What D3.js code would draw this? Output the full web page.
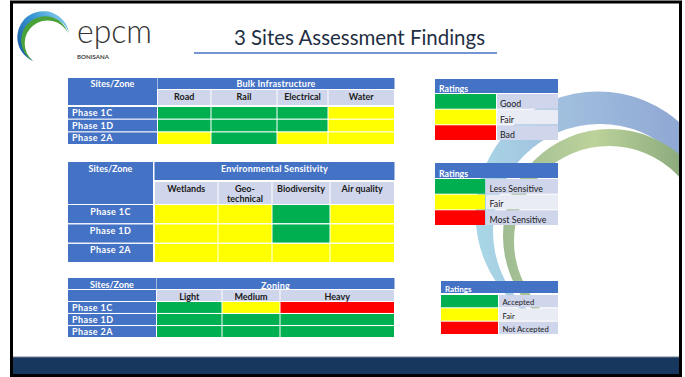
<!DOCTYPE html>
<html>
<head>
<meta charset="utf-8">
<script src="https://cdn.jsdelivr.net/npm/d3@7"></script>
<style>
  html, body { margin: 0; padding: 0; background: #ffffff; }
  svg { display: block; }
  text { font-family: Lato, "Open Sans", sans-serif; }
</style>
</head>
<body>
<div id="chart"></div>
<script>
// ---------------- DATA ----------------
const siteRows = ["Phase 1C", "Phase 1D", "Phase 2A"];

const infraTitle = "Bulk Infrastructure";
const infraCategories = ["Road", "Rail", "Electrical", "Water"];
// 1 = good/green, 2 = fair/yellow, 3 = bad/red
const infraRatings = [
  [1, 1, 1, 2],
  [1, 1, 1, 2],
  [2, 1, 2, 2]
];

const envTitle = "Environmental Sensitivity";
const envCategories = ["Wetlands", "Geo-|technical", "Biodiversity", "Air quality"];
const envRatings = [
  [2, 2, 1, 2],
  [2, 2, 1, 2],
  [2, 2, 2, 2]
];

const zoningTitle = "Zoning";
const zoningCategories = ["Light", "Medium", "Heavy"];
const zoningRatings = [
  [1, 2, 3],
  [1, 1, 1],
  [1, 1, 1]
];

const ratingLevels = [1, 2, 3];
const legendInfraLabels = ["Good", "Fair", "Bad"];
const legendEnvLabels = ["Less Sensitive", "Fair", "Most Sensitive"];
const legendZoningLabels = ["Accepted", "Fair", "Not Accepted"];

const slideTitle = "3 Sites Assessment Findings";
const headerLabel = "Sites/Zone";
const legendTitle = "Ratings";

// ---------------- STYLE ----------------
const W = 685, H = 377;
const BLUE = "#4472c4";
const SUB = "#cfd5ea";
const SUB2 = "#e9ebf5";
const ratingColor = d3.scaleOrdinal().domain(ratingLevels).range(["#00b050", "#ffff00", "#ff0000"]);

const svg = d3.select("#chart").append("svg").attr("width", W).attr("height", H);
const defs = svg.append("defs");

// ---------------- BACKGROUND DECORATION ----------------
const gBlue = defs.append("linearGradient").attr("id", "gBlue").attr("gradientUnits", "userSpaceOnUse")
  .attr("x1", 470).attr("y1", 150).attr("x2", 690).attr("y2", 130);
gBlue.append("stop").attr("offset", 0).attr("stop-color", "#a9d6e6");
gBlue.append("stop").attr("offset", 0.5).attr("stop-color", "#9fbcdd");
gBlue.append("stop").attr("offset", 1).attr("stop-color", "#8ea6d3");
const gGreen = defs.append("linearGradient").attr("id", "gGreen").attr("gradientUnits", "userSpaceOnUse")
  .attr("x1", 500).attr("y1", 150).attr("x2", 690).attr("y2", 150);
gGreen.append("stop").attr("offset", 0).attr("stop-color", "#9fbb92");
gGreen.append("stop").attr("offset", 0.5).attr("stop-color", "#bcd29a");
gGreen.append("stop").attr("offset", 1).attr("stop-color", "#86a67a");

defs.append("clipPath").attr("id", "slideClip").append("rect")
  .attr("x", 12).attr("y", 3).attr("width", 667).attr("height", 353);

function circlePath(cx, cy, r) {
  const p = d3.path();
  p.moveTo(cx + r, cy);
  p.arc(cx, cy, r, 0, 2 * Math.PI);
  p.closePath();
  return p.toString();
}
const deco = svg.append("g").attr("clip-path", "url(#slideClip)");
const wedge = d3.arc().innerRadius(0).outerRadius(200);
defs.append("clipPath").attr("id", "blueWedge").append("path")
  .attr("transform", "translate(598,214)")
  .attr("d", wedge({ startAngle: -2.55, endAngle: 1.9 }));
defs.append("clipPath").attr("id", "greenWedge").append("path")
  .attr("transform", "translate(610,238)")
  .attr("d", wedge({ startAngle: -2.35, endAngle: 1.9 }));

deco.append("g").attr("clip-path", "url(#blueWedge)").append("path")
  .attr("d", circlePath(598, 214, 122.5) + circlePath(600, 231, 107))
  .attr("fill-rule", "evenodd").attr("fill", "url(#gBlue)");
deco.append("g").attr("clip-path", "url(#greenWedge)").append("path")
  .attr("d", circlePath(610, 236, 107) + circlePath(609, 241, 95))
  .attr("fill-rule", "evenodd").attr("fill", "url(#gGreen)");

// ---------------- SLIDE FRAME ----------------
svg.append("rect").attr("x", 0).attr("y", 357).attr("width", W).attr("height", 19).attr("fill", "#17375e");
svg.append("line").attr("x1", 12).attr("x2", 680).attr("y1", 357).attr("y2", 357).attr("stroke", "#6f8096").attr("stroke-width", 1);
svg.append("rect").attr("x", 11.5).attr("y", 2).attr("width", 669).attr("height", 373.5)
  .attr("fill", "none").attr("stroke", "#000").attr("stroke-width", 3);
svg.append("rect").attr("x", 0).attr("y", 0).attr("width", 10).attr("height", H).attr("fill", "#fff");
svg.append("rect").attr("x", 682).attr("y", 0).attr("width", 3).attr("height", H).attr("fill", "#fff");

// ---------------- LOGO ----------------
const gLogo = defs.append("linearGradient").attr("id", "gLogo").attr("gradientUnits", "userSpaceOnUse")
  .attr("x1", 70).attr("y1", 20).attr("x2", 22).attr("y2", 55);
gLogo.append("stop").attr("offset", 0).attr("stop-color", "#8fd0ee");
gLogo.append("stop").attr("offset", 0.45).attr("stop-color", "#3a9ad6");
gLogo.append("stop").attr("offset", 1).attr("stop-color", "#1b5fa8");
svg.append("path")
  .attr("d", "M69,33 A26,26 0 1 0 33,61 A24,24 0 1 1 69,33 Z")
  .attr("fill", "url(#gLogo)");
svg.append("path")
  .attr("d", "M68,33 A24,24 0 1 0 33,61 A22.9,22.9 0 1 1 68,33 Z")
  .attr("fill", "#4aa23a");
svg.append("text").attr("x", 77).attr("y", 43).attr("font-size", 33).attr("font-weight", 300)
  .attr("fill", "#333").attr("textLength", 75).attr("lengthAdjust", "spacingAndGlyphs").text("epcm");
svg.append("text").attr("x", 77).attr("y", 58.5).attr("font-size", 5.5).attr("font-weight", 700)
  .attr("fill", "#444").attr("textLength", 32).attr("lengthAdjust", "spacingAndGlyphs").text("BONISANA");

// ---------------- TITLE ----------------
svg.append("text").attr("x", 234).attr("y", 45).attr("font-size", 21).attr("fill", "#1f2f45")
  .attr("textLength", 251).attr("lengthAdjust", "spacingAndGlyphs").text(slideTitle);
svg.append("line").attr("x1", 194).attr("x2", 497).attr("y1", 53).attr("y2", 53)
  .attr("stroke", BLUE).attr("stroke-width", 1.3);

// ---------------- TABLES ----------------
function drawTable(cfg, title, cats, ratings) {
  const g = svg.append("g");
  const fs = cfg.fontSize;
  const xL = d3.scaleOrdinal().domain(cats).range(cfg.colEdges.slice(0, -1));
  const xR = d3.scaleOrdinal().domain(cats).range(cfg.colEdges.slice(1));
  const y = d3.scaleBand().domain(siteRows).range(cfg.rowsY).paddingInner(cfg.rowPad);

  g.append("rect").attr("x", cfg.labelX[0]).attr("y", cfg.sitesY[0])
    .attr("width", cfg.labelX[1] - cfg.labelX[0]).attr("height", cfg.sitesY[1] - cfg.sitesY[0]).attr("fill", BLUE);
  if (cfg.blankY) {
    g.append("rect").attr("x", cfg.labelX[0]).attr("y", cfg.blankY[0])
      .attr("width", cfg.labelX[1] - cfg.labelX[0]).attr("height", cfg.blankY[1] - cfg.blankY[0]).attr("fill", BLUE);
  }
  g.append("text").attr("x", (cfg.labelX[0] + cfg.labelX[1]) / 2).attr("y", cfg.sitesTextY)
    .attr("text-anchor", "middle").attr("font-size", fs).attr("font-weight", 700).attr("fill", "#fff").text(headerLabel);

  const x0 = cfg.colEdges[0], x1 = cfg.colEdges[cfg.colEdges.length - 1];
  g.append("rect").attr("x", x0).attr("y", cfg.hdrY[0]).attr("width", x1 - x0)
    .attr("height", cfg.hdrY[1] - cfg.hdrY[0]).attr("fill", BLUE);
  g.append("text").attr("x", (x0 + x1) / 2).attr("y", cfg.titleTextY).attr("text-anchor", "middle")
    .attr("font-size", fs).attr("font-weight", 700).attr("fill", "#fff").attr("letter-spacing", 0.2).text(title);

  const sub = g.selectAll(".sub").data(cats).join("g");
  sub.append("rect").attr("x", d => xL(d) + 0.5).attr("y", cfg.subY[0])
    .attr("width", d => xR(d) - xL(d) - 1).attr("height", cfg.subY[1] - cfg.subY[0]).attr("fill", SUB);
  sub.append("text").attr("text-anchor", "middle").attr("font-size", fs).attr("font-weight", 700).attr("fill", "#1a1a1a")
    .attr("x", d => (xL(d) + xR(d)) / 2).attr("y", cfg.subTextY)
    .selectAll("tspan").data(d => d.split("|")).join("tspan")
    .attr("x", function () { return d3.select(this.parentNode).attr("x"); })
    .attr("dy", (d, i) => i === 0 ? 0 : cfg.lineH).text(d => d);

  g.selectAll(".rl").data(siteRows).join("rect").attr("x", cfg.labelX[0]).attr("y", d => y(d))
    .attr("width", cfg.labelX[1] - cfg.labelX[0]).attr("height", y.bandwidth()).attr("fill", BLUE);
  g.selectAll(".rt").data(siteRows).join("text")
    .attr("x", cfg.rowCenter ? (cfg.labelX[0] + cfg.labelX[1]) / 2 : cfg.labelX[0] + 4)
    .attr("text-anchor", cfg.rowCenter ? "middle" : "start")
    .attr("y", d => y(d) + cfg.rowTextDy).attr("font-size", fs).attr("font-weight", 700).attr("fill", "#fff")
    .attr("letter-spacing", 0.4).text(d => d);

  const cells = [];
  siteRows.forEach((r, i) => cats.forEach((c, j) => cells.push({ r, c, v: ratings[i][j] })));
  g.selectAll(".cell").data(cells).join("rect")
    .attr("x", d => xL(d.c) + 0.5).attr("y", d => y(d.r))
    .attr("width", d => xR(d.c) - xL(d.c) - 1).attr("height", y.bandwidth())
    .attr("fill", d => ratingColor(d.v));
}

drawTable({
  fontSize: 9, labelX: [68, 157], sitesY: [78, 105], sitesTextY: 87.3,
  colEdges: [157.5, 211, 277, 328, 394.5], hdrY: [78, 89], titleTextY: 87.3,
  subY: [90, 105], subTextY: 100, lineH: 10, rowsY: [107, 144], rowPad: 0.09, rowTextDy: 9, rowCenter: false
}, infraTitle, infraCategories, infraRatings);

drawTable({
  fontSize: 9, labelX: [68, 153], sitesY: [162, 204], sitesTextY: 172,
  colEdges: [154.5, 218, 272, 330, 394.5], hdrY: [162, 180], titleTextY: 172,
  subY: [182, 204], subTextY: 191.5, lineH: 10, rowsY: [205, 262], rowPad: 0.07, rowTextDy: 9.5, rowCenter: true
}, envTitle, envCategories, envRatings);

drawTable({
  fontSize: 9, labelX: [68, 156], sitesY: [278, 289], blankY: [290, 301], sitesTextY: 288,
  colEdges: [156.5, 222, 280, 394.5], hdrY: [278, 289], titleTextY: 289,
  subY: [290, 301], subTextY: 299.8, lineH: 10, rowsY: [302, 337], rowPad: 0.09, rowTextDy: 8.8, rowCenter: false
}, zoningTitle, zoningCategories, zoningRatings);

// ---------------- LEGENDS ----------------
function drawLegend(cfg, labels) {
  const g = svg.append("g");
  const y = d3.scaleBand().domain(ratingLevels).range(cfg.rowsY).paddingInner(cfg.pad);
  g.append("rect").attr("x", cfg.x0).attr("y", cfg.hdrY[0]).attr("width", cfg.x2 - cfg.x0)
    .attr("height", cfg.hdrY[1] - cfg.hdrY[0]).attr("fill", BLUE);
  g.append("text").attr("x", cfg.x0 + 4).attr("y", cfg.hdrY[1] - 1.5).attr("font-size", cfg.hfs)
    .attr("font-weight", 700).attr("fill", "#fff").text(legendTitle);
  g.selectAll(".sw").data(ratingLevels).join("rect").attr("x", cfg.x0).attr("y", d => y(d))
    .attr("width", cfg.x1 - cfg.x0).attr("height", y.bandwidth()).attr("fill", d => ratingColor(d));
  g.selectAll(".lc").data(ratingLevels).join("rect").attr("x", cfg.x1 + 1).attr("y", d => y(d))
    .attr("width", cfg.x2 - cfg.x1 - 1).attr("height", y.bandwidth()).attr("fill", (d, i) => i === 1 ? SUB2 : SUB);
  g.selectAll(".lt").data(ratingLevels).join("text").attr("x", cfg.x1 + cfg.tx)
    .attr("y", d => y(d) + y.bandwidth() - cfg.tb).attr("font-size", cfg.fs).attr("fill", "#1a1a1a")
    .text((d, i) => labels[i]);
}

drawLegend({ x0: 435, x1: 496, x2: 558, hdrY: [79, 93], rowsY: [94, 140], pad: 0.06, fs: 8.8, hfs: 8.8, tx: 4, tb: 1.8 }, legendInfraLabels);
drawLegend({ x0: 435, x1: 485, x2: 558, hdrY: [163, 178], rowsY: [179, 225], pad: 0.06, fs: 8.8, hfs: 8.8, tx: 4.5, tb: 2 }, legendEnvLabels);
drawLegend({ x0: 441, x1: 498, x2: 558, hdrY: [281, 293], rowsY: [295, 334], pad: 0.08, fs: 7.7, hfs: 8, tx: 4.5, tb: 1.8 }, legendZoningLabels);
</script>
</body>
</html>
